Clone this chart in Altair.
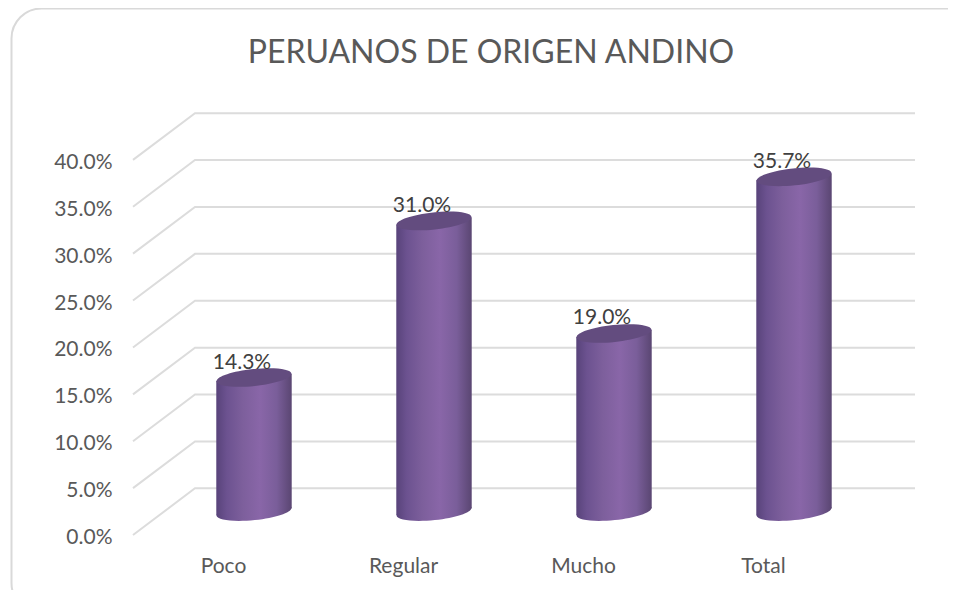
import math
import altair as alt
import pandas as pd

# ---- values
categories = ["Poco", "Regular", "Mucho", "Total"]
shares = [0.143, 0.310, 0.190, 0.357]
grid_levels = [0.0, 0.05, 0.10, 0.15, 0.20, 0.25, 0.30, 0.35, 0.40]
title_text = "PERUANOS DE ORIGEN ANDINO"

# ---- oblique projection of the chart box, in data units
DEPTH_X = 0.3444     # one depth unit, in category widths
DEPTH_Y = 0.0498     # one depth unit, in share
HALF_W = 0.2095      # cylinder half width, in category widths
TILT = 0.0037        # rim slope of the cylinder ends, in share

FONT = "Lato"
GREY = "#595959"

x_scale = alt.Scale(domain=[0, 4 + DEPTH_X], nice=False, zero=False)
y_scale = alt.Scale(domain=[0, 0.45], nice=False, zero=False)

grid_rows = []
for level in grid_levels:
    grid_rows.append({"level": level, "step": 0, "x": 0.0, "y": level})
    grid_rows.append({"level": level, "step": 1, "x": DEPTH_X, "y": level + DEPTH_Y})
    grid_rows.append({"level": level, "step": 2, "x": 4 + DEPTH_X, "y": level + DEPTH_Y})
grid_df = pd.DataFrame(grid_rows)

centres = [i + 0.5 + DEPTH_X / 2 for i in range(len(categories))]
base = DEPTH_Y / 2

body_rows = []
for name, c, v in zip(categories, centres, shares):
    body_rows.append({"cat": name, "x": c - HALF_W, "y": base + v - TILT, "y2": base - TILT})
    body_rows.append({"cat": name, "x": c + HALF_W, "y": base + v + TILT, "y2": base + TILT})
body_df = pd.DataFrame(body_rows)

cyl_df = pd.DataFrame({
    "cat": categories,
    "x": centres,
    "value": shares,
    "top": [base + v for v in shares],
    "bottom": [base] * len(shares),
})


def tilted_ellipse(ry=0.225, degrees=-6.0):
    th = math.radians(degrees)
    k = 0.5523

    def p(x, y):
        return f"{x * math.cos(th) - y * math.sin(th):.4f},{x * math.sin(th) + y * math.cos(th):.4f}"

    return (
        f"M{p(-1, 0)}"
        f"C{p(-1, -k * ry)} {p(-k, -ry)} {p(0, -ry)}"
        f"C{p(k, -ry)} {p(1, -k * ry)} {p(1, 0)}"
        f"C{p(1, k * ry)} {p(k, ry)} {p(0, ry)}"
        f"C{p(-k, ry)} {p(-1, k * ry)} {p(-1, 0)}Z"
    )


ELLIPSE = tilted_ellipse()
CYL_SIZE = 5685

side_fill = alt.Gradient(
    gradient="linear",
    x1=0, x2=1, y1=0, y2=0,
    stops=[
        alt.GradientStop(color="#58437a", offset=0.0),
        alt.GradientStop(color="#6c5290", offset=0.14),
        alt.GradientStop(color="#7d5f9c", offset=0.35),
        alt.GradientStop(color="#8966a8", offset=0.58),
        alt.GradientStop(color="#7a5e9a", offset=0.80),
        alt.GradientStop(color="#5a4672", offset=1.0),
    ],
)

x_q = lambda **kw: alt.X("x:Q", scale=x_scale, **kw)
y_q = lambda f="y:Q", **kw: alt.Y(f, scale=y_scale, **kw)

frame = alt.Chart(pd.DataFrame({"a": [0]})).mark_rect(
    cornerRadius=30, fillOpacity=0, stroke="#d9d9d9", strokeWidth=2
).encode(
    x=alt.value(-121.5), x2=alt.value(850),
    y=alt.value(-104.5), y2=alt.value(500),
)

grid = alt.Chart(grid_df).mark_line(color="#dcdcdc", strokeWidth=2).encode(
    x=x_q(
        axis=alt.Axis(
            values=[i + 0.5 for i in range(len(categories))],
            labelExpr="['Poco','Regular','Mucho','Total'][floor(datum.value)]",
            ticks=False, domain=False, grid=False, title=None,
            labelFont=FONT, labelFontSize=21, labelColor=GREY,
            labelPadding=20, labelOverlap=False, labelFlush=False, zindex=1,
        )
    ),
    y=y_q(
        axis=alt.Axis(
            values=grid_levels, format=".1%",
            ticks=False, domain=False, grid=False, title=None,
            labelFont=FONT, labelFontSize=21, labelColor=GREY,
            labelPadding=21, labelOffset=2.5, labelOverlap=False,
            labelFlush=False, zindex=1,
        )
    ),
    detail="level:N",
    order="step:Q",
)

bottoms = alt.Chart(cyl_df).mark_point(
    shape=ELLIPSE, size=CYL_SIZE, filled=True, fill=side_fill, opacity=1
).encode(x=x_q(), y=y_q("bottom:Q"))

bodies = alt.Chart(body_df).mark_area(fill=side_fill, opacity=1).encode(
    x=x_q(),
    y=y_q(),
    y2="y2:Q",
    detail="cat:N",
)

tops = alt.Chart(cyl_df).mark_point(
    shape=ELLIPSE, size=CYL_SIZE, filled=True, fill="#634c7f", opacity=1
).encode(x=x_q(), y=y_q("top:Q"))

labels = alt.Chart(cyl_df).mark_text(
    font=FONT, fontSize=21, color="#404040", baseline="alphabetic", dx=-12, dy=-9
).encode(
    x=x_q(),
    y=y_q("top:Q"),
    text=alt.Text("value:Q", format=".1%"),
)

chart = alt.layer(frame, grid, bottoms, bodies, tops, labels).properties(
    width=782,
    height=422,
    padding={"left": 125, "top": 105, "right": 33, "bottom": 55},
    autosize=alt.AutoSizeParams(type="none"),
    title=alt.TitleParams(
        title_text, font=FONT, fontSize=32, fontWeight="normal", color=GREY,
        anchor="middle", dx=-33, offset=-87, baseline="alphabetic",
    ),
).configure(background="white").configure_view(stroke=None)

chart.save("out.html", embed_options={"renderer": "svg", "actions": False})
